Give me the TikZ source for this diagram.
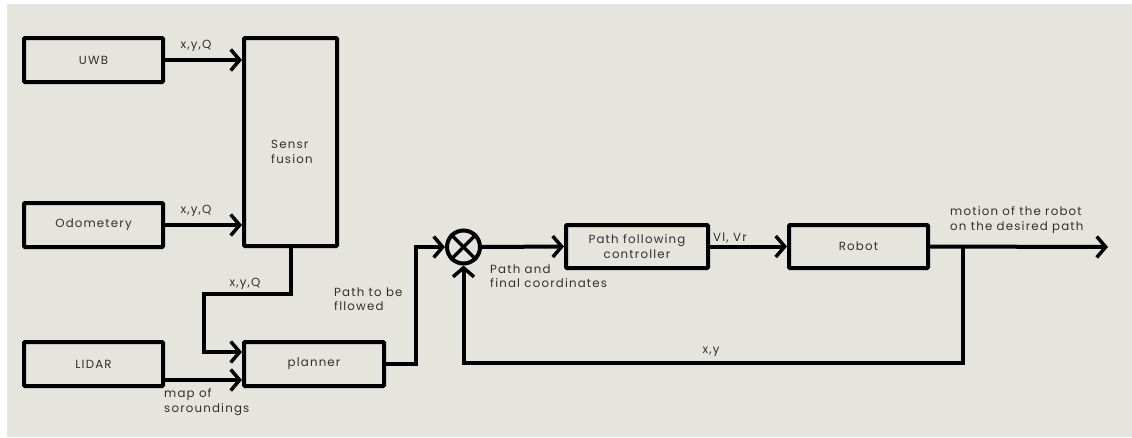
\documentclass[tikz,border=0pt]{standalone}
\usepackage{fontspec}
\setmainfont{Poppins}[LetterSpace=10]
\usetikzlibrary{arrows.meta}
\definecolor{bg}{HTML}{E5E4DD}
\definecolor{txt}{HTML}{303030}
\begin{document}
\begin{tikzpicture}[x=1pt,y=-1pt,
  every node/.style={font=\fontsize{11.8}{14.5}\selectfont, text=txt},
  blk/.style={draw=black, line width=4pt, rounded corners=1pt, inner sep=0pt},
  lbl/.style={inner sep=0pt, align=left},
  arr/.style={draw=black, line width=4pt, -{Straight Barb[length=9pt,width=21pt,line width=3.5pt]}},
  ln/.style={draw=black, line width=4pt}]
\fill[white] (0,0) rectangle (1132,437);
\fill[bg] (7,4) rectangle (1132,437);
\useasboundingbox (0,0) rectangle (1132,437);

\node[blk, minimum width=139pt, minimum height=44pt] (uwb) at (93.5,60) {UWB};
\node[blk, minimum width=93pt, minimum height=208pt] (fusion) at (290.5,142) {};
\node[lbl, anchor=west] (fusionlbl) at (271,152) {Sensr\\fusion};
\node[blk, minimum width=139pt, minimum height=44pt] (odo) at (93.5,225) {Odometery};
\node[blk, minimum width=139pt, minimum height=44pt] (lidar) at (93.5,364) {LIDAR};
\node[blk, minimum width=140pt, minimum height=44pt] (planner) at (314,364) {planner};
\node[draw=black, line width=4pt, circle, minimum size=33pt, inner sep=0pt] (sum) at (463.5,247) {};
\node[blk, minimum width=142pt, minimum height=43pt, align=center] (ctrl) at (637,246.5) {Path following\\controller};
\node[blk, minimum width=139pt, minimum height=43pt] (robot) at (858.5,246.5) {Robot};

\draw[line width=3.5pt] (sum.north west) -- (sum.south east);
\draw[line width=3.5pt] (sum.north east) -- (sum.south west);

% labels
\node[lbl] (l1) at (196,46) {x,y,Q};
\node[lbl] (l2) at (196,211) {x,y,Q};
\node[lbl] (l3) at (245,284) {x,y,Q};
\node[lbl, anchor=west] (l4) at (164,402) {map of\\soroundings};
\node[lbl, anchor=west] (l5) at (334,299) {Path to be\\fllowed};
\node[lbl, anchor=west] (l6) at (490,276) {Path and\\final coordinates};
\node[lbl, anchor=west] (l7) at (713,238) {Vl, Vr};
\node[lbl] (l8) at (711,352) {x,y};
\node[lbl, anchor=west] (l9) at (950,220) {motion of the robot\\on the desired path};

% coordinates
\coordinate (f1) at (204,294);
\coordinate (pin1) at (242,352);
\coordinate (pin2) at (242,380);
\coordinate (lout) at (165,380);
\coordinate (p1) at (416,364);
\coordinate (out) at (1108,247);
\coordinate (tap) at (963,247);
\coordinate (fb) at (963,363);

% connectors
\draw[arr] (uwb.east) -- (uwb.east -| fusion.west);
\draw[arr] (odo.east) -- (odo.east -| fusion.west);
\draw[arr] (fusion.south) |- (f1) |- (pin1);
\draw[arr] (lout) -- (pin2);
\draw[arr] (planner.east) -- (p1) |- (sum.west);
\draw[arr] (sum.east) -- (ctrl.west);
\draw[arr] (ctrl.east) -- (robot.west);
\draw[arr] (robot.east) -- (out);
\draw[arr] (tap) -- (fb) -| (sum.south);
\end{tikzpicture}
\end{document}
